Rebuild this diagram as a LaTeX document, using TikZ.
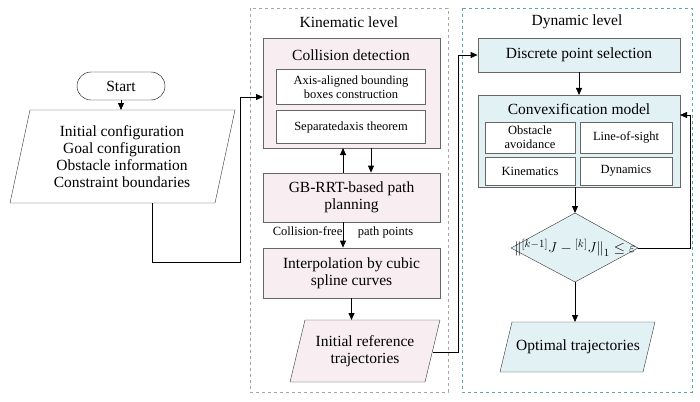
\documentclass[tikz,border=0pt]{standalone}
\usepackage{fontspec}
\setmainfont{Liberation Serif}
\usetikzlibrary{arrows.meta,positioning}
\definecolor{kinfill}{RGB}{248,238,242}
\definecolor{dynfill}{RGB}{226,241,244}
\definecolor{dynline}{RGB}{90,170,170}
\tikzset{
  arr/.style={draw,thick,-{Triangle[length=7pt,width=6pt]}},
  outer/.style={draw=gray!80!black,thick,rectangle},
  inner/.style={draw=gray!80!black,fill=white,rectangle,align=center,font=\fontsize{12.5}{14}\selectfont},
  shapeline/.style={draw=black!80},
  level/.style={draw,dashed,rectangle},
}
\begin{document}
\begin{tikzpicture}[x=1pt,y=-1pt,font=\fontsize{15.5}{17}\selectfont]
\useasboundingbox (0,0) rectangle (700,401);
% levels
\draw[level,gray!70] (250,8) rectangle (448,392);
\node (kin) at (349,22) {Kinematic level};
\draw[level,dynline] (462,8) rectangle (692,392);
\node (dyn) at (577,22) {Dynamic level};
% left column
\node[draw,rounded corners=14pt,minimum width=88pt,minimum height=28pt] (start) at (121,86) {Start};
\draw[shapeline,fill=white] (30,110) -- (235,110) -- (215,203) -- (10,203) -- cycle;
\node[align=center,inner sep=0pt] (input) at (122,157)
  {Initial configuration\\Goal configuration\\Obstacle information\\Constraint boundaries};
\coordinate (inb) at (152,203);
\coordinate (c1) at (152,262);
\coordinate (c2) at (240,262);
\coordinate (c3) at (240,97);
% kinematic
\draw[outer,fill=kinfill] (263,38) rectangle (440,148);
\node (colt) at (351,55) {Collision detection};
\node[inner,minimum width=149pt,minimum height=35pt] (aabb) at (351,87) {Axis-aligned bounding\\boxes construction};
\node[inner,minimum width=149pt,minimum height=33pt] (sat) at (351,127) {Separatedaxis theorem};
\coordinate (colin) at (263,97);
\coordinate (colb1) at (343,148);
\coordinate (colb2) at (371,148);
\node[outer,fill=kinfill,minimum width=177pt,minimum height=49pt,align=center] (rrt) at (351.5,197.5) {GB-RRT-based path\\planning};
\node[outer,fill=kinfill,minimum width=177pt,minimum height=50pt,align=center] (interp) at (351.5,273) {Interpolation by cubic\\spline curves};
\node[font=\fontsize{12.5}{14}\selectfont] (cf) at (343,232) {Collision-free \quad path points};
\draw[shapeline,fill=kinfill] (305,320) -- (440,320) -- (425,382) -- (290,382) -- cycle;
\node[align=center,inner sep=0pt] (initref) at (365,351) {Initial reference\\trajectories};
\coordinate (irt) at (351.5,320);
\coordinate (ire) at (433,352);
\coordinate (d1) at (458,352);
\coordinate (d2) at (458,55);
% dynamic
\node[outer,fill=dynfill,minimum width=202pt,minimum height=34pt] (disc) at (579,55) {Discrete point selection};
\draw[outer,fill=dynfill] (478,95) rectangle (680,187);
\node (cvt) at (579,109) {Convexification model};
\node[inner,minimum width=90pt,minimum height=31pt] (obs) at (530,137.5) {Obstacle\\avoidance};
\node[inner,minimum width=92pt,minimum height=31pt] (los) at (626,137.5) {Line-of-sight};
\node[inner,minimum width=90pt,minimum height=28pt] (kine) at (530,171) {Kinematics};
\node[inner,minimum width=92pt,minimum height=28pt] (dynm) at (626,171) {Dynamics};
\coordinate (cvt0) at (579,95);
\coordinate (cvb) at (575,187);
\coordinate (cvr) at (680,115);
\draw[shapeline,fill=dynfill] (511,248) -- (575,213) -- (638,248) -- (575,282) -- cycle;
\node[inner sep=0pt] (conv) at (575,248) {$\bigl\|{}^{[k-1]}J-{}^{[k]}J\bigr\|_1\le\varepsilon$};
\coordinate (dt) at (575,213);
\coordinate (dr) at (638,248);
\coordinate (db) at (575,282);
\coordinate (e1) at (690,248);
\coordinate (e2) at (690,115);
\draw[shapeline,fill=dynfill] (512,322) -- (655,322) -- (643,372) -- (500,372) -- cycle;
\node (opt) at (578,347) {Optimal trajectories};
\coordinate (opt0) at (575,322);
% connectors
\draw[arr] (start) -- (start |- 0,110);
\draw[thick] (inb) -- (c1) -- (c2) -- (c3);
\draw[arr] (c3) -- (colin);
\draw[arr] (rrt.north -| colb1) -- (colb1);
\draw[arr] (colb2) -- (rrt.north -| colb2);
\draw[arr] (rrt.south -| cf) -- (interp.north -| cf);
\draw[arr] (interp) -- (irt);
\draw[thick] (ire) -- (d1) -- (d2);
\draw[arr] (d2) -- (disc);
\draw[arr] (disc) -- (cvt0);
\draw[arr] (cvb) -- (dt);
\draw[thick] (dr) -- (e1) -- (e2);
\draw[arr] (e2) -- (cvr);
\draw[arr] (db) -- (opt0);
\end{tikzpicture}
\end{document}
